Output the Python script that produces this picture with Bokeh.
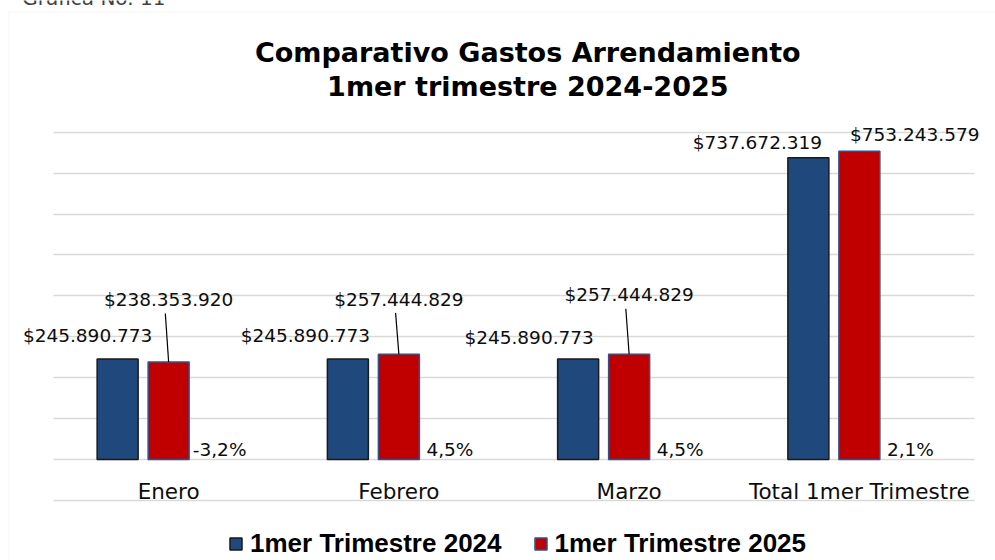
from bokeh.plotting import figure
from bokeh.models import (ColumnDataSource, LabelSet, Label, Legend, LegendItem,
                          FixedTicker, Range1d, BoxAnnotation)
from bokeh.transform import dodge
from bokeh.core.properties import value
from bokeh.embed import file_html
from bokeh.resources import INLINE

# ---------------- data ----------------
categories = ["Enero", "Febrero", "Marzo", "Total 1mer Trimestre"]
gastos_2024 = [245890773, 245890773, 245890773, 737672319]
gastos_2025 = [238353920, 257444829, 257444829, 753243579]
variacion = ["-3,2%", "4,5%", "4,5%", "2,1%"]
series_names = ["1mer Trimestre 2024", "1mer Trimestre 2025"]
grid_values = [-100e6, 0, 100e6, 200e6, 300e6, 400e6, 500e6, 600e6, 700e6, 800e6]
title_lines = ["Comparativo Gastos  Arrendamiento", "1mer  trimestre 2024-2025"]
caption = "Gráfica No. 11"

# ---------------- layout / style ----------------
W, H = 995, 560
CAT_LEFT, CAT_RIGHT = 53, 974       # px span of the category axis
ZERO_Y = 459.1                      # px (from top) of value 0
PX_PER_UNIT = 40.93 / 100e6         # px per currency unit
CAT_PX = (CAT_RIGHT - CAT_LEFT) / len(categories)
BAR_W = 41 / CAT_PX
OFFSET = 51 / CAT_PX

BLUE, BLUE_EDGE = "#1F497D", "#1A1A1A"
RED, RED_EDGE = "#C00000", "#2F528F"
GRID = "#D9D9D9"
TXT = "#0D0D0D"
FONT = "DejaVu Sans"

# label offsets (px) relative to bar tops / centers
dx_2024 = [-30, -42.5, -49, -51]
dy_2024 = [16.5, 16.5, 15.2, 8.9]
dx_2025 = [0, 0, 0, 55.4]
dy_2025 = [56.5, 48.7, 53, 10.1]
leader_px = [48.5, 41.4, 45.4]       # leader line length for first three labels

def fmt(v):
    return "$" + f"{v:,}".replace(",", ".")

idx = list(range(len(categories)))
x_start = -CAT_LEFT / CAT_PX - 0.5
x_end = (W - CAT_LEFT) / CAT_PX - 0.5
y_start = -(H - ZERO_Y) / PX_PER_UNIT
y_end = ZERO_Y / PX_PER_UNIT
axis_span = (-0.5, len(categories) - 0.5)

p = figure(width=W, height=H, x_range=Range1d(x_start, x_end),
           y_range=Range1d(y_start, y_end), output_backend="svg",
           toolbar_location=None, title=None,
           x_axis_location=None, y_axis_location=None, min_border=0)
p.outline_line_color = None
p.background_fill_color = "white"
p.border_fill_color = "white"
p.xgrid.visible = False

# horizontal gridlines limited to the category span
try:
    p.ygrid.cross_bounds = axis_span
    p.ygrid.ticker = FixedTicker(ticks=grid_values)
    p.ygrid.grid_line_color = GRID
    p.ygrid.grid_line_width = 1.5
except Exception:
    p.ygrid.visible = False
    gsrc = ColumnDataSource(dict(y=grid_values))
    p.segment(x0=axis_span[0], x1=axis_span[1], y0="y", y1="y", source=gsrc,
              line_color=GRID, line_width=1.5)

src = ColumnDataSource(dict(
    idx=idx, cat=categories, y2024=gastos_2024, y2025=gastos_2025,
    l2024=[fmt(v) for v in gastos_2024], l2025=[fmt(v) for v in gastos_2025],
    dx2024=dx_2024, dy2024=dy_2024, dx2025=dx_2025, dy2025=dy_2025,
    pct=variacion,
))

b1 = p.vbar(x=dodge("idx", -OFFSET), top="y2024", width=BAR_W,
            source=src, fill_color=BLUE, line_color=BLUE_EDGE, line_width=1.5)
b2 = p.vbar(x="idx", top="y2025", width=BAR_W,
            source=src, fill_color=RED, line_color=RED_EDGE, line_width=1.5)

# leader lines for moved labels
n_lead = len(leader_px)
lead_src = ColumnDataSource(dict(
    idx=idx[:n_lead], y2025=gastos_2025[:n_lead],
    top=[v + l / PX_PER_UNIT for v, l in zip(gastos_2025[:n_lead], leader_px)],
))
p.segment(x0=dodge("idx", -3.3 / CAT_PX), y0="top", x1="idx", y1="y2025",
          source=lead_src, line_color="#000000", line_width=1.2)

common = dict(source=src, text_align="center", text_baseline="alphabetic",
              text_font=value(FONT), text_color=TXT)
p.add_layout(LabelSet(x=dodge("idx", -OFFSET), y="y2024", text="l2024",
                      x_offset="dx2024", y_offset="dy2024", text_font_size="18.5px", **common))
p.add_layout(LabelSet(x="idx", y="y2025", text="l2025",
                      x_offset="dx2025", y_offset="dy2025", text_font_size="18.5px", **common))
p.add_layout(LabelSet(x=dodge("idx", OFFSET), y=0, text="pct",
                      y_offset=3.5, text_font_size="18.5px", **common))
p.add_layout(LabelSet(x="idx", y=0, text="cat", y_offset=-39.2,
                      text_font_size="21.5px", **common))

# chart box border (left + top edges; right/bottom fall outside the picture)
p.add_layout(BoxAnnotation(left=8.5, right=W + 50, top=H - 11.5, bottom=-50,
                           left_units="screen", right_units="screen",
                           top_units="screen", bottom_units="screen",
                           fill_alpha=0, line_color=GRID, line_width=1))

# caption (cut off at top, as in the reference); Label centres its box on y
p.add_layout(Label(x=21.7, y=H + 2.2, x_units="screen", y_units="screen", text=caption,
                   text_font=FONT, text_font_size="20px", text_color="#404040",
                   text_baseline="alphabetic"))

# two-line title
for txt, ypos in zip(title_lines, [51.7, 85.7]):
    p.add_layout(Label(x=532, y=H - ypos, x_units="screen", y_units="screen",
                       text=txt, text_font=FONT, text_font_style="bold",
                       text_font_size="27px", text_color="#000000",
                       text_align="center", text_baseline="alphabetic"))

legend = Legend(items=[LegendItem(label=series_names[0], renderers=[b1]),
                       LegendItem(label=series_names[1], renderers=[b2])],
                location=(228, 1.5), orientation="horizontal",
                label_text_font="Liberation Sans", label_text_font_style="bold",
                label_text_font_size="26px", label_text_color="#000000",
                label_text_baseline="alphabetic",
                glyph_width=15, glyph_height=15, label_standoff=7, spacing=31,
                padding=0, margin=0, border_line_color=None,
                background_fill_alpha=0)
p.add_layout(legend)

open("out.html", "w").write(file_html(p, INLINE))
